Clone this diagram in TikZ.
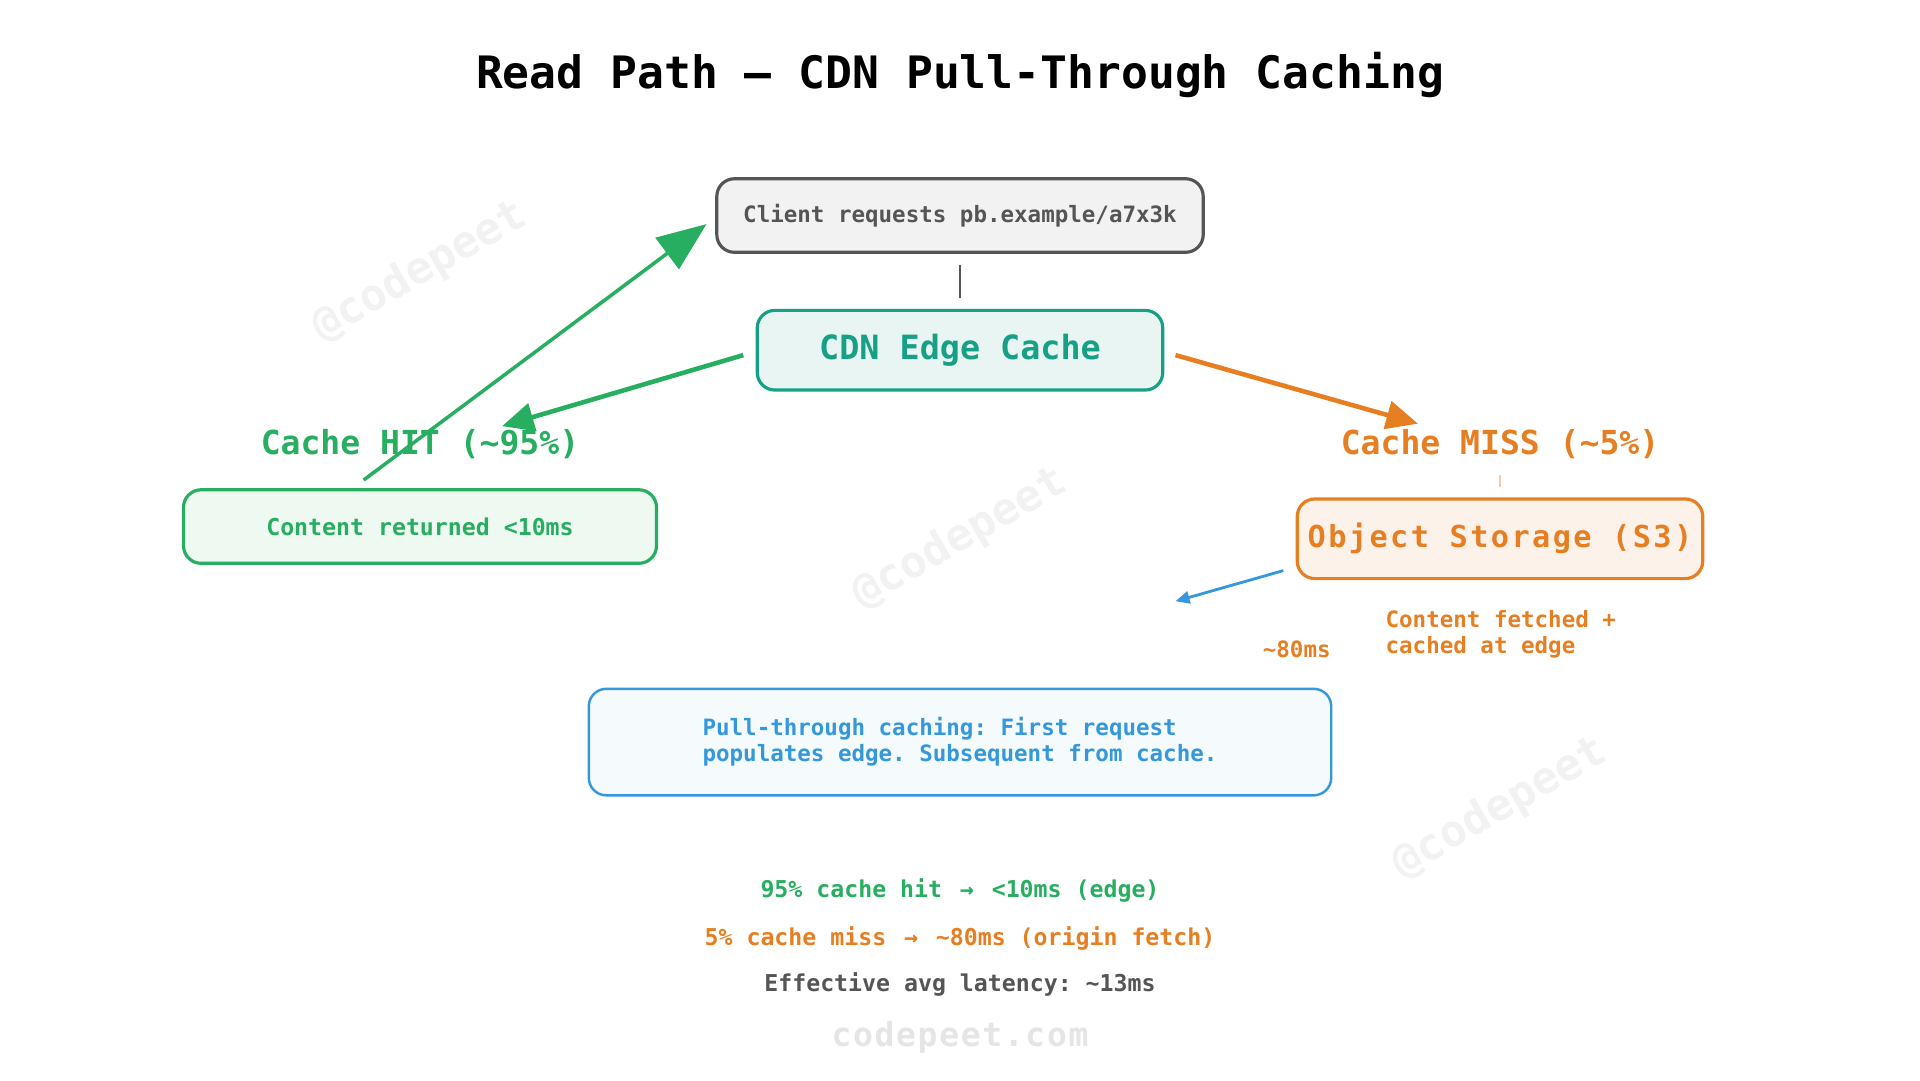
\documentclass[tikz,border=0pt]{standalone}
\usepackage{fontspec}
\setmonofont{DejaVu Sans Mono}
\usetikzlibrary{arrows.meta}
\definecolor{grn}{HTML}{27AE60}
\definecolor{teal}{HTML}{16A085}
\definecolor{org}{HTML}{E67E22}
\definecolor{blu}{HTML}{3498DB}
\definecolor{dg}{HTML}{555555}
\begin{document}
\begin{tikzpicture}[x=0.012245cm,y=-0.012245cm,
  box/.style={draw,rounded corners=5pt,line width=0.9pt,minimum height=#1,inner sep=0pt},
  t/.style={font=\ttfamily\bfseries\fontsize{#1}{#1}\selectfont},
  wm/.style={t=12.5,text=black!5,rotate=30}]
\useasboundingbox[fill=white] (0,0) rectangle (1568,882);
\node[t=12.7] (title) at (784,61) {Read Path — CDN Pull-Through Caching};
\node[wm] (w1) at (343,222) {@codepeet};
\node[wm] (w2) at (784,440) {@codepeet};
\node[wm] (w3) at (1225,660) {@codepeet};
\node[box=0.735cm,minimum width=4.861cm,draw=dg,fill=black!5,t=6.4,text=dg] (client) at (784,176) {Client requests pb.example/a7x3k};
\node[box=0.796cm,minimum width=4.053cm,draw=teal,fill=teal!10,t=9.5,text=teal] (cdn) at (784,286) {CDN Edge Cache};
\node[t=9.4,text=grn] (hit) at (343,363) {Cache HIT (\textasciitilde95\%)};
\node[t=9.4,text=org] (miss) at (1225,363) {Cache MISS (\textasciitilde5\%)};
\node[box=0.735cm,minimum width=4.727cm,draw=grn,fill=grn!8,t=6.6,text=grn] (ret) at (343,430) {Content returned <10ms};
\node[box=0.796cm,minimum width=4.053cm,draw=org,fill=org!10,t=8.6,text=org] (obj) at (1225,440) {\addfontfeature{LetterSpace=8}Object Storage (S3)};
\node[t=6.4,text=org,align=left,anchor=north west,inner sep=0pt] (fetched) at (1131,498) {Content fetched +\\[1pt]cached at edge};
\node[t=6.4,text=org] (ms) at (1059,530) {\textasciitilde80ms};
\node[box=1.065cm,minimum width=7.42cm,draw=blu,fill=blu!5,line width=0.7pt,t=6.4,text=blu,align=left] (pull) at (784,606) {Pull-through caching: First request\\[1pt]populates edge. Subsequent from cache.};
\node[t=6.6,text=grn] (l1) at (784,727) {95\% cache hit \,→\, <10ms (edge)};
\node[t=6.6,text=org] (l2) at (784,766) {5\% cache miss \,→\, \textasciitilde80ms (origin fetch)};
\node[t=6.6,text=dg] (l3) at (784,804) {Effective avg latency: \textasciitilde13ms};
\node[t=9.4,text=black!10] (foot) at (784,847) {\addfontfeature{LetterSpace=5}codepeet.com};
\coordinate (a1) at (297,392); \coordinate (a2) at (577,183);
\coordinate (b1) at (607,290); \coordinate (b2) at (410,348);
\coordinate (c1) at (960,290); \coordinate (c2) at (1158,346);
\coordinate (d1) at (1048,466); \coordinate (d2) at (960,491);
\coordinate (e1) at (1225,388); \coordinate (e2) at (1225,398);
\coordinate (f1) at (784,216); \coordinate (f2) at (784,243);
\draw[dg,line width=0.6pt] (f1) -- (f2);
\draw[grn,line width=1pt,-{Triangle[length=14pt,width=11pt]}] (a1) -- (a2);
\draw[grn,line width=1.3pt,-{Triangle[length=9pt,width=8pt]}] (b1) -- (b2);
\draw[org,line width=1.3pt,-{Triangle[length=9pt,width=8pt]}] (c1) -- (c2);
\draw[blu,line width=0.8pt,-{Triangle[length=4pt,width=3.5pt]}] (d1) -- (d2);
\draw[org!40,line width=0.5pt] (e1) -- (e2);
\end{tikzpicture}
\end{document}
